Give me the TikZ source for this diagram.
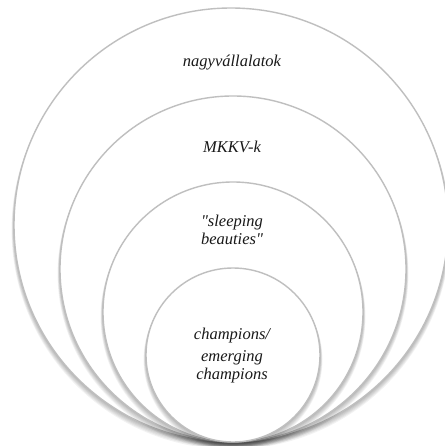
\documentclass[tikz,border=0pt]{standalone}
\usepackage{fontspec}
\setmainfont{Liberation Serif}[Ligatures=TeXOff]
\tikzset{
  ringline/.style={draw=gray!50, line width=1.4pt, fill=white},
  shadowfill/.style={fill=black, fill opacity=0.05, draw=none},
  lbl/.style={font=\fontsize{16.5}{17.5}\selectfont\itshape, text=black!90, align=center}
}
\begin{document}
\begin{tikzpicture}[x=1pt,y=-1pt]
\useasboundingbox (0,0) rectangle (444,446);
\fill[white] (0,0) rectangle (444,446);
\foreach \r/\cx/\cy/\nm in {217/231/225/c1, 173/233/269/c2, 130/233/312/c3, 87/233/355/c4}{
  \foreach \s in {1,2,3,4,5,6}{\fill[shadowfill] (\cx,{\cy+0.8*\s}) circle[radius={\r+0.4*\s}];}
  \path[ringline] (\cx,\cy) circle[radius=\r];
  \coordinate (\nm) at (\cx,\cy);
}
% labels
\node[lbl] (t1) at (232,63) {nagyvállalatok};
\node[lbl] (t2) at (232,147) {MKKV-k};
\node[lbl] (t3) at (232,230) {"sleeping\\beauties"};
\node[lbl] (t4) at (232,336) {champions/};
\node[lbl] (t5) at (232,367) {emerging\\champions};
\end{tikzpicture}
\end{document}
